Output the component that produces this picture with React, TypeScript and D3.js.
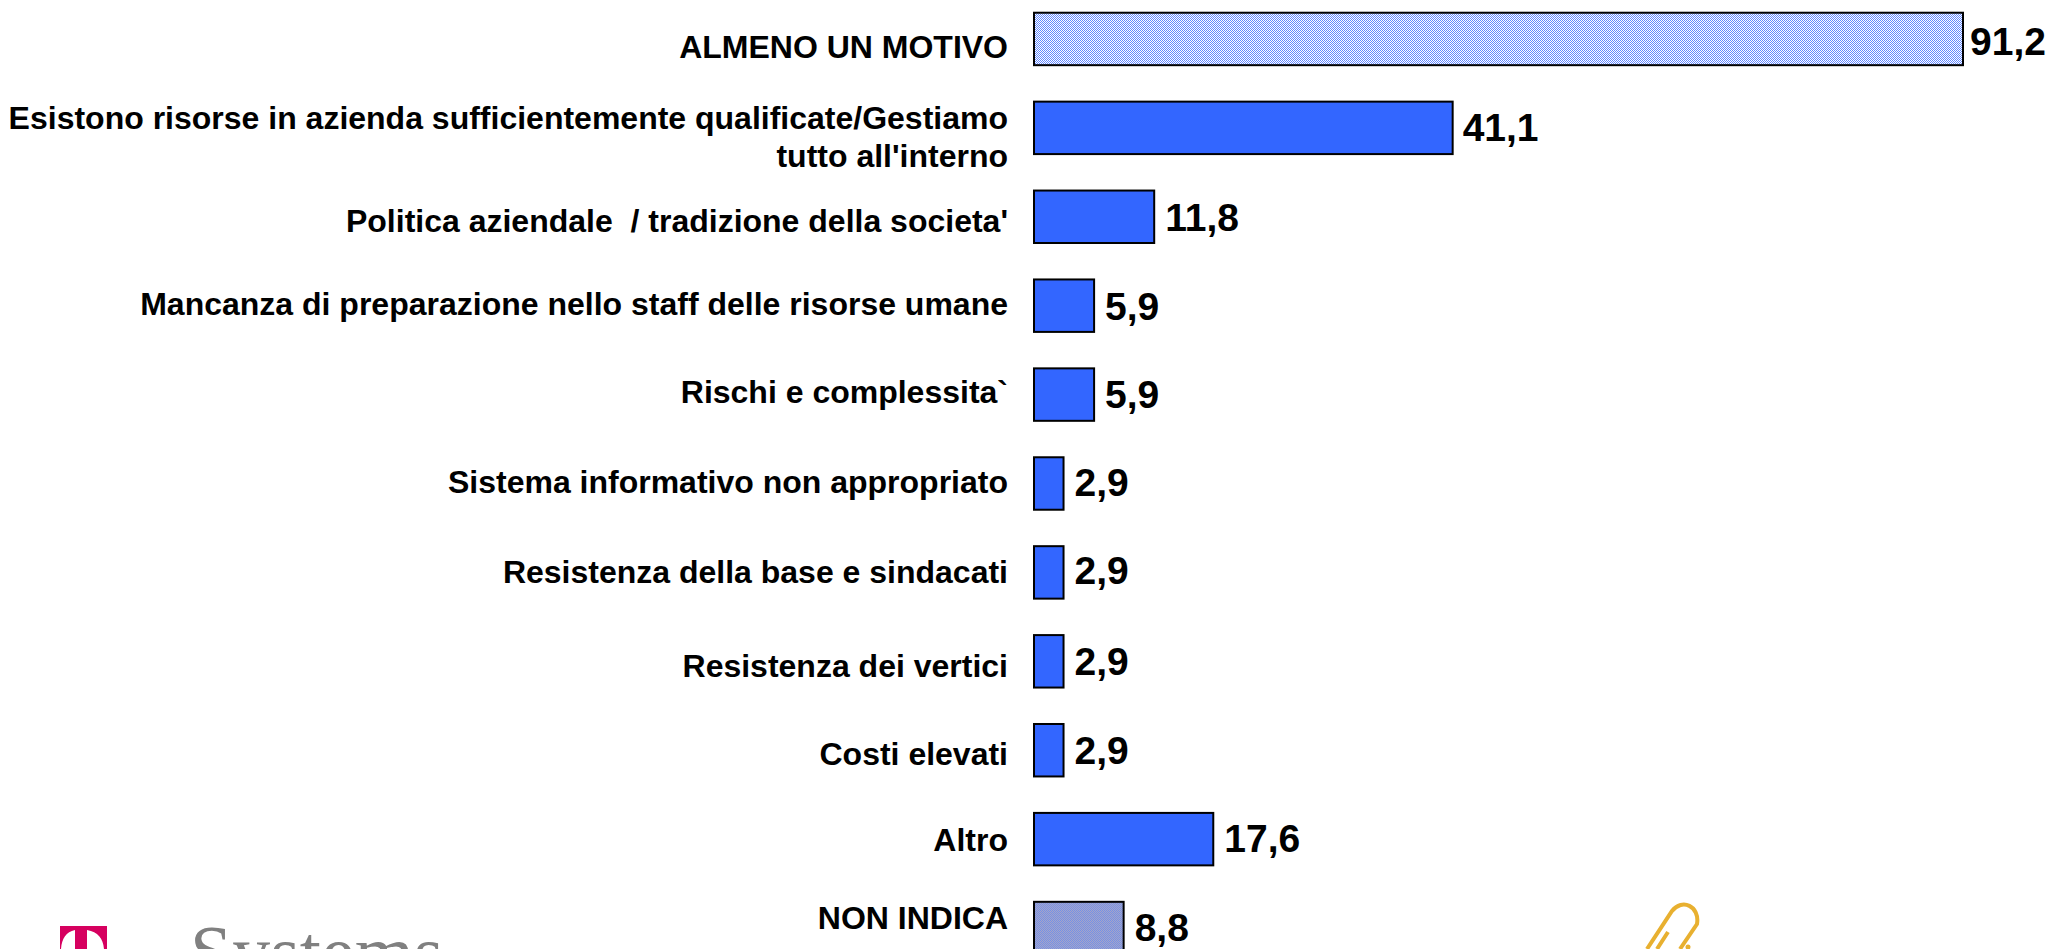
import React from "react";
import * as d3 from "d3";

const categories = [
  "ALMENO UN MOTIVO",
  "Esistono risorse in azienda sufficientemente qualificate/Gestiamo|tutto all'interno",
  "Politica aziendale  / tradizione della societa'",
  "Mancanza di preparazione nello staff delle risorse umane",
  "Rischi e complessita`",
  "Sistema informativo non appropriato",
  "Resistenza della base e sindacati",
  "Resistenza dei vertici",
  "Costi elevati",
  "Altro",
  "NON INDICA",
];
const values = [91.2, 41.1, 11.8, 5.9, 5.9, 2.9, 2.9, 2.9, 2.9, 17.6, 8.8];
const valueLabels = ["91,2", "41,1", "11,8", "5,9", "5,9", "2,9", "2,9", "2,9", "2,9", "17,6", "8,8"];
const fills = ["url(#light)", "#3366ff", "#3366ff", "#3366ff", "#3366ff", "#3366ff", "#3366ff", "#3366ff", "#3366ff", "#3366ff", "url(#muted)"];

// Small per-row nudges of the labels against their bars, as in the reference layout
const labelNudge = [8, 9, 4, -2, -3, -2, 0, 5, 4, 1, -10];
const valueNudge = [2, -1, 0, 0, -1, -2, -2, 0, 0, -1, -1];
const valueShift = [-4, -1, 0, 0, 0, 0, 0, 0, 0, 0, 0];

const FONT = "'Liberation Sans', Arial, sans-serif";

export default function App() {
  const x = d3.scaleLinear().domain([0, 91.2]).range([1034, 1963]);
  const y = d3.scaleBand<number>().domain(d3.range(11)).range([-5.5, 972.5]).paddingInner(0.41).paddingOuter(0.205);
  return (
    <svg width={2050} height={949} style={{ position: "absolute", left: 0, top: 0, background: "#fff" }}>
      <defs>
        <pattern id="light" width={2} height={2} patternUnits="userSpaceOnUse">
          <rect width={2} height={2} fill="#ffffff" />
          <rect width={1} height={1} fill="#6188ff" />
          <rect x={1} y={1} width={1} height={1} fill="#6188ff" />
        </pattern>
        <pattern id="muted" width={2} height={2} patternUnits="userSpaceOnUse">
          <rect width={2} height={2} fill="#a6a6c8" />
          <rect width={1} height={1} fill="#7590e6" />
          <rect x={1} y={1} width={1} height={1} fill="#7590e6" />
        </pattern>
      </defs>
      {categories.map((c, i) => {
        const cy = y(i)! + y.bandwidth() / 2;
        const lines = c.split("|");
        return (
          <g key={i}>
            <rect x={x(0)} y={y(i)} width={x(values[i]) - x(0)} height={y.bandwidth()} fill={fills[i]} stroke="#000" strokeWidth={2} />
            {lines.map((l, j) => (
              <text key={j} x={1008} y={cy + 11 + (j - (lines.length - 1) / 2) * 38 + labelNudge[i]} textAnchor="end" fontFamily={FONT} fontWeight="bold" fontSize={32} xmlSpace="preserve" fill="#000">{l}</text>
            ))}
            <text x={x(values[i]) + 11 + valueShift[i]} y={cy + 14 + valueNudge[i]} fontFamily={FONT} fontWeight="bold" fontSize={39} fill="#000">{valueLabels[i]}</text>
          </g>
        );
      })}
      <path d="M60,949 V926 H107 V949 H104 C103,938 98,932 87,930 V949 H75 V930 C66,932 62,938 61,949 Z" fill="#d6005f" />
      <text x={190} y={978} fontFamily="'Liberation Serif', serif" fontSize={76} fill="#808080">Systems</text>
      <path d="M1647,949 L1672,911 C1682,898 1700,906 1697,924 L1680,949 M1657,949 L1668,932" fill="none" stroke="#e8b030" strokeWidth={4} />
      <circle cx={1688} cy={947} r={2.5} fill="#e8b030" />
    </svg>
  );
}
